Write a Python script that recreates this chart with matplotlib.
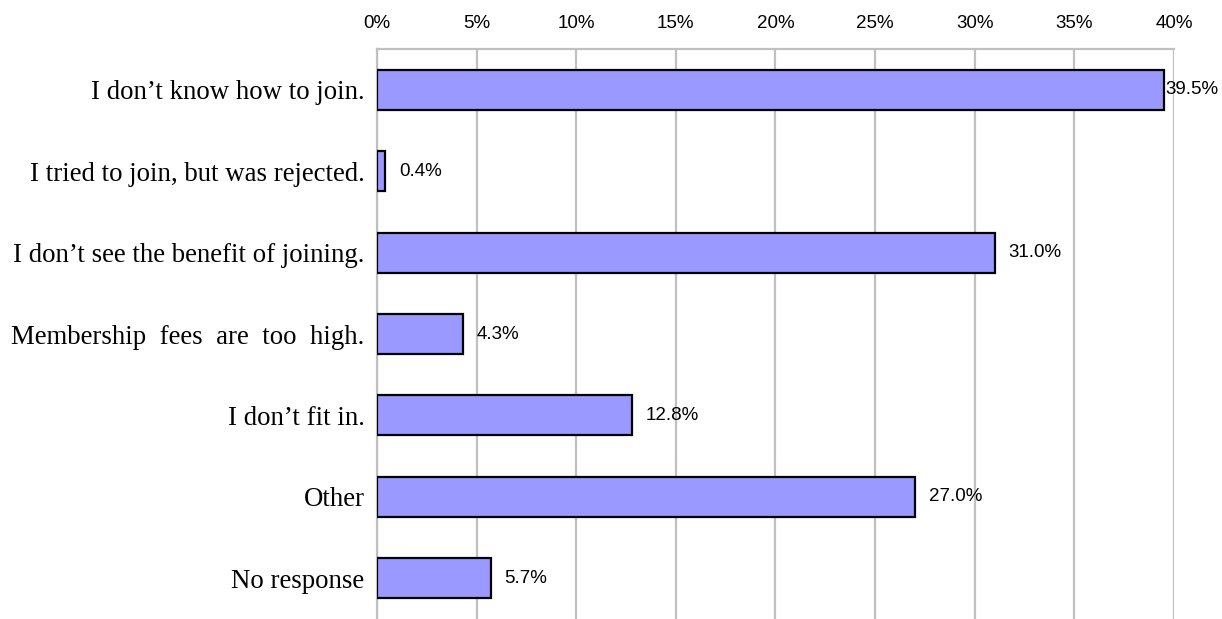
import matplotlib.pyplot as plt
from matplotlib.ticker import FuncFormatter

reasons = [
    "I don\u2019t know how to join.",
    "I tried to join, but was rejected.",
    "I don\u2019t see the benefit of joining.",
    "Membership  fees  are  too  high.",
    "I don\u2019t fit in.",
    "Other",
    "No response",
]
shares = [39.5, 0.4, 31.0, 4.3, 12.8, 27.0, 5.7]
ticks = [0, 5, 10, 15, 20, 25, 30, 35, 40]

NUM_FONT = 'Liberation Sans'
NUM_SIZE = 13.5


def main():
    fig = plt.figure(figsize=(12.22, 6.19), dpi=100)
    ax = fig.add_axes([0.3085, 0.0, 0.9607 - 0.3085, 0.9208])

    ypos = list(range(len(reasons)))
    ax.barh(ypos, shares, height=0.49, color='#9999FF', edgecolor='black',
            linewidth=1.6, zorder=3)

    ax.set_xlim(0, 40)
    ax.set_ylim(len(reasons) - 0.5, -0.5)
    ax.set_xticks(ticks)
    ax.xaxis.set_major_formatter(FuncFormatter(lambda v, _: f'{v:.0f}%'))
    ax.xaxis.tick_top()
    ax.tick_params(axis='x', length=0, pad=12, labelsize=NUM_SIZE)
    for lbl in ax.get_xticklabels():
        lbl.set_family(NUM_FONT)

    ax.set_yticks(ypos)
    ax.set_yticklabels(reasons, family='Liberation Serif', fontsize=19.3)
    ax.tick_params(axis='y', length=0, pad=9)

    ax.grid(axis='x', color='#C0C0C0', linewidth=1.6, zorder=0)
    for side in ['bottom', 'right']:
        ax.spines[side].set_visible(False)
    for side in ['top', 'left']:
        ax.spines[side].set_color('#C0C0C0')
        ax.spines[side].set_linewidth(1.6)

    # value labels; the longest bar sits right against its label
    for y, v in zip(ypos, shares):
        off = 1 if v > 38 else 10
        ax.annotate(f'{v:.1f}%', xy=(v, y), xytext=(off, 0),
                    textcoords='offset points', va='center', ha='left',
                    fontsize=NUM_SIZE, family=NUM_FONT, clip_on=False)

    fig.savefig('out.png', dpi=100, facecolor='white')


if __name__ == "__main__":
    main()
